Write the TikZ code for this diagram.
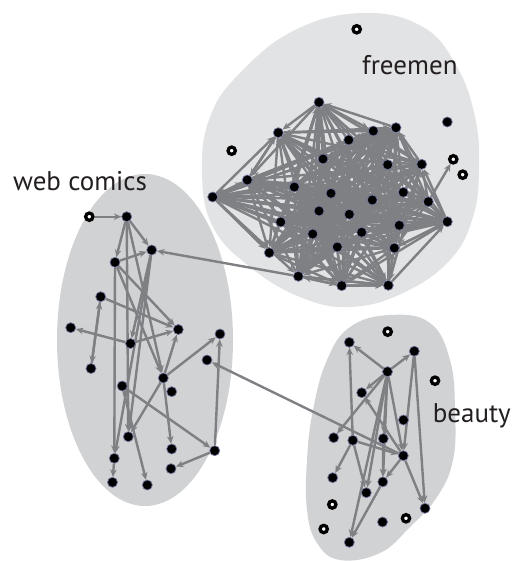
\documentclass[tikz,border=0pt]{standalone}
\usepackage{fontspec}
\setmainfont{PT Sans}
\usetikzlibrary{arrows.meta}
\pgfdeclarelayer{bg}
\pgfdeclarelayer{edges}
\pgfsetlayers{bg,edges,main}
\definecolor{blobA}{HTML}{E2E3E4}
\definecolor{blobB}{HTML}{D1D2D4}
\definecolor{edgegray}{HTML}{7E8083}
\definecolor{nodering}{HTML}{6E7399}
\definecolor{txt}{HTML}{231F20}
\begin{document}
\begin{tikzpicture}[x=1pt,y=-1pt,
  vtx/.style={circle,fill=black,draw=nodering,line width=0.7pt,minimum size=10pt,inner sep=0pt},
  iso/.style={circle,fill=white,draw=black,line width=3.3pt,minimum size=7.3pt,inner sep=0pt},
  lnk/.style={draw=edgegray,line width=2.4pt,-{Stealth[length=7.5pt,width=6.5pt]}},
  lbl/.style={font=\fontsize{27}{32}\selectfont,text=txt,inner sep=0pt}]
\useasboundingbox (0,0) rectangle (514,561);

\begin{pgfonlayer}{bg}
\fill[blobA] plot[smooth cycle,tension=0.7] coordinates {(363,13) (423,27) (457,67) (475,117) (479,167) (473,217) (450,260) (403,293) (350,307) (300,297) (250,267) (213,227) (202,173) (210,117) (240,73) (295,30)};
\fill[blobB] (145,340) ellipse [x radius=88, y radius=166];
\fill[blobB] plot[smooth cycle,tension=0.7] coordinates {(390,315) (430,323) (450,360) (455,410) (453,460) (437,497) (410,527) (380,553) (340,560) (317,543) (307,510) (307,460) (313,410) (327,360) (350,327)};
\end{pgfonlayer}

% labels
\node[lbl,anchor=base west] (tf) at (362,75) {freemen};
\node[lbl,anchor=base west] (tw) at (13,190.7) {web comics};
\node[lbl,anchor=base east] (tb) at (511,422.7) {beauty};

% freemen nodes
\foreach \n/\x/\y in {1/319/102.3, 2/278.3/132.7, 3/373.3/131, 4/396/127.7, 5/348.7/140,
  6/323/159, 7/387.7/164.7, 8/421.7/164.3, 9/247.3/180, 10/294.3/187, 11/331/193.3,
  12/403.3/192.3, 13/212.7/197, 14/372.3/200, 15/428.3/201.7, 16/319/211, 17/349.3/214.3,
  18/280.7/222, 19/447.3/221.7, 20/399.3/225.3, 21/312.7/234, 22/361.7/232.3, 23/337.3/247,
  24/394.3/248, 25/269.3/252.7, 26/298.3/276.3, 27/341.7/285.7, 28/388.3/285.3}
  \node[vtx] (F\n) at (\x,\y) {};
\node[vtx] (Fa) at (447.3,122) {};
\node[iso] (Fr1) at (356.7,29.3) {};
\node[iso] (Fr2) at (231.7,150.7) {};
\node[iso] (Fr3) at (453.3,159.3) {};
\node[iso] (Fr4) at (462.7,174.7) {};

% web comics nodes
\foreach \n/\x/\y in {1/126.7/216.7, 2/151.7/250, 3/115/262.3, 4/100.7/296.7, 5/70.7/327.7,
  6/178.3/329.5, 7/220/334, 8/130.5/343.5, 9/207/360, 10/91/368.5, 11/163.3/378,
  12/171.7/391.7, 13/122.2/386, 14/128.3/436.7, 15/171.7/449, 16/214.7/450.7,
  17/114.3/458.3, 18/171/468.7, 19/112.5/482.3, 20/147.3/485}
  \node[vtx] (W\n) at (\x,\y) {};
\node[iso] (Wr) at (89.3,216.7) {};

% beauty nodes
\foreach \n/\x/\y in {1/349.3/342.3, 2/414.3/351.2, 3/387.5/371.7, 4/361.7/392.7, 5/403.5/420,
  6/333.7/437.7, 7/352.8/440.3, 8/383.3/438.6, 9/403.3/455.7, 10/332.7/477.7, 11/382.8/481.9,
  12/366.3/492.7, 13/425/508.3, 14/382.5/522, 15/349.3/542.3}
  \node[vtx] (B\n) at (\x,\y) {};
\node[iso] (Br1) at (387.7,331.7) {};
\node[iso] (Br2) at (435,380.7) {};
\node[iso] (Br3) at (332.3,504.5) {};
\node[iso] (Br4) at (406,518.3) {};
\node[iso] (Br5) at (323.7,529) {};

\begin{pgfonlayer}{edges}
% freemen dense cluster
\pgfmathsetseed{7}
\foreach \i in {1,...,27}{
  \pgfmathtruncatemacro{\s}{\i+1}
  \foreach \j in {\s,...,28}{
    \pgfmathtruncatemacro{\ok}{rnd<0.68}
    \pgfmathtruncatemacro{\dir}{rnd<0.5}
    \ifnum\ok=1
      \ifnum\dir=1 \draw[lnk] (F\i) -- (F\j); \else \draw[lnk] (F\j) -- (F\i); \fi
    \fi
  }
}
\foreach \a/\b in {2/9, 1/2, 9/13, 26/28, 27/28, 26/27, 10/13, 6/13, 18/13, 24/19, 20/19, 12/19, 25/19}
  \draw[lnk] (F\a) -- (F\b);
\draw[lnk] (F15) -- (Fr3);
\draw[lnk] (F26) -- (W2);

% web comics
\foreach \a/\b in {1/2, 1/3, 3/2, 3/6, 4/6, 3/17, 1/14, 1/11, 2/14, 2/17, 2/8, 4/10, 10/4,
  8/5, 8/6, 11/6, 11/7, 11/14, 11/15, 13/16, 16/7, 16/18, 13/20, 17/19, 3/11}
  \draw[lnk] (W\a) -- (W\b);
\draw[lnk] (Wr) -- (W1);
\draw[lnk] (B9) -- (W9);

% beauty
\foreach \a/\b in {3/1, 3/2, 3/4, 3/6, 7/1, 3/8, 3/9, 3/12, 3/11, 3/15, 2/9, 2/13, 9/4,
  7/10, 7/12, 8/11, 9/11, 11/15, 9/13, 7/9}
  \draw[lnk] (B\a) -- (B\b);
\end{pgfonlayer}
\end{tikzpicture}
\end{document}
